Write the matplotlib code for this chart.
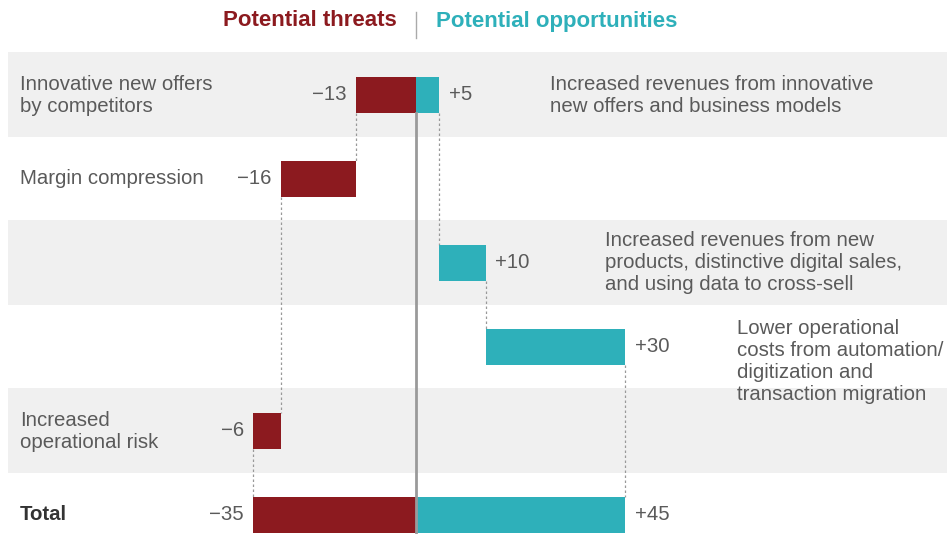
import numpy as np
import matplotlib.pyplot as plt

plt.rcParams['font.family'] = ['Liberation Sans', 'DejaVu Sans']

# rows of the waterfall (last row is the total)
row_labels = ["Innovative new offers\nby competitors", "Margin compression", "", "",
              "Increased\noperational risk"]
threats = np.array([-13, -16, 0, 0, -6])
opportunities = np.array([5, 0, 10, 30, 0])
opp_labels = ["Increased revenues from innovative\nnew offers and business models",
              "",
              "Increased revenues from new\nproducts, distinctive digital sales,\nand using data to cross-sell",
              "Lower operational\ncosts from automation/\ndigitization and\ntransaction migration",
              ""]
total_label = "Total"

red = '#8c1a1f'
teal = '#2eb0ba'
txt = '#5a5a5a'
fs = 14.7
bar_h = 0.44

fig = plt.figure(figsize=(9.47, 5.34), dpi=100)
ax = fig.add_axes([0, 0, 1, 1])
px = 4.65  # pixels per unit
ax.set_xlim(-416 / px, (947 - 416) / px)
ax.set_ylim((534 - 95) / 84, -95 / 84)
ax.axis('off')

n = len(threats)
total_row = n

# alternating background bands
for i in range(0, n + 1, 2):
    ax.axhspan(i - 0.51, i + 0.5, xmin=8 / 947, xmax=1, color='#f0f0f0', lw=0, zorder=0)


def waterfall(values, color, side):
    start = 0
    prev_end = None
    for i, v in enumerate(values):
        if v == 0:
            continue
        ax.barh(i, v, left=start, height=bar_h, color=color, zorder=2)
        if prev_end is not None:
            ax.plot([start, start], [prev_end[1] + bar_h / 2, i - bar_h / 2],
                    ls=(0, (2, 2)), color='#999999', lw=0.9, zorder=1)
        end = start + v
        lab = ('+%d' % v) if v > 0 else ('\u2212%d' % -v)
        ax.text(end + 2 * side, i, lab, ha='left' if side > 0 else 'right', va='center',
                fontsize=fs, color=txt)
        prev_end = (end, i)
        start = end
    # connector to total and total bar
    ax.plot([start, start], [prev_end[1] + bar_h / 2, total_row - bar_h / 2],
            ls=(0, (2, 2)), color='#999999', lw=0.9, zorder=1)
    tot = values.sum()
    ax.barh(total_row, tot, left=0, height=bar_h, color=color, zorder=2)
    lab = ('+%d' % tot) if tot > 0 else ('\u2212%d' % -tot)
    ax.text(tot + 2 * side, total_row, lab, ha='left' if side > 0 else 'right', va='center',
            fontsize=fs, color=txt)


waterfall(threats, red, -1)
waterfall(opportunities, teal, 1)

# centre axis line
ax.plot([0, 0], [0 + bar_h / 2, total_row + 0.6], color='#9a9a9a', lw=2, zorder=3)

# row labels
label_x = -396 / px
for i, lab in enumerate(row_labels):
    if lab:
        ax.text(label_x, i, lab, ha='left', va='center', fontsize=fs, color=txt,
                linespacing=1.2)
ax.text(label_x, total_row, total_label, ha='left', va='center', fontsize=fs,
        color='#333333', fontweight='bold')

# opportunity descriptions
desc_x = [550, 0, 605, 737, 0]
desc_dy = [0, 0, 0, 0.17, 0]
for i, lab in enumerate(opp_labels):
    if lab:
        ax.text((desc_x[i] - 416) / px, i + desc_dy[i], lab, ha='left', va='center',
                fontsize=fs, color=txt, linespacing=1.2)

# header
head_y = (21 - 95) / 84
ax.text(-19 / px, head_y, 'Potential threats', ha='right', va='center', fontsize=16,
        fontweight='bold', color=red)
ax.text(20 / px, head_y, 'Potential opportunities', ha='left', va='center', fontsize=16,
        fontweight='bold', color=teal)
ax.plot([0, 0], [(12 - 95) / 84, (38 - 95) / 84], color='#aaaaaa', lw=1)

fig.savefig('out.png', dpi=100)
